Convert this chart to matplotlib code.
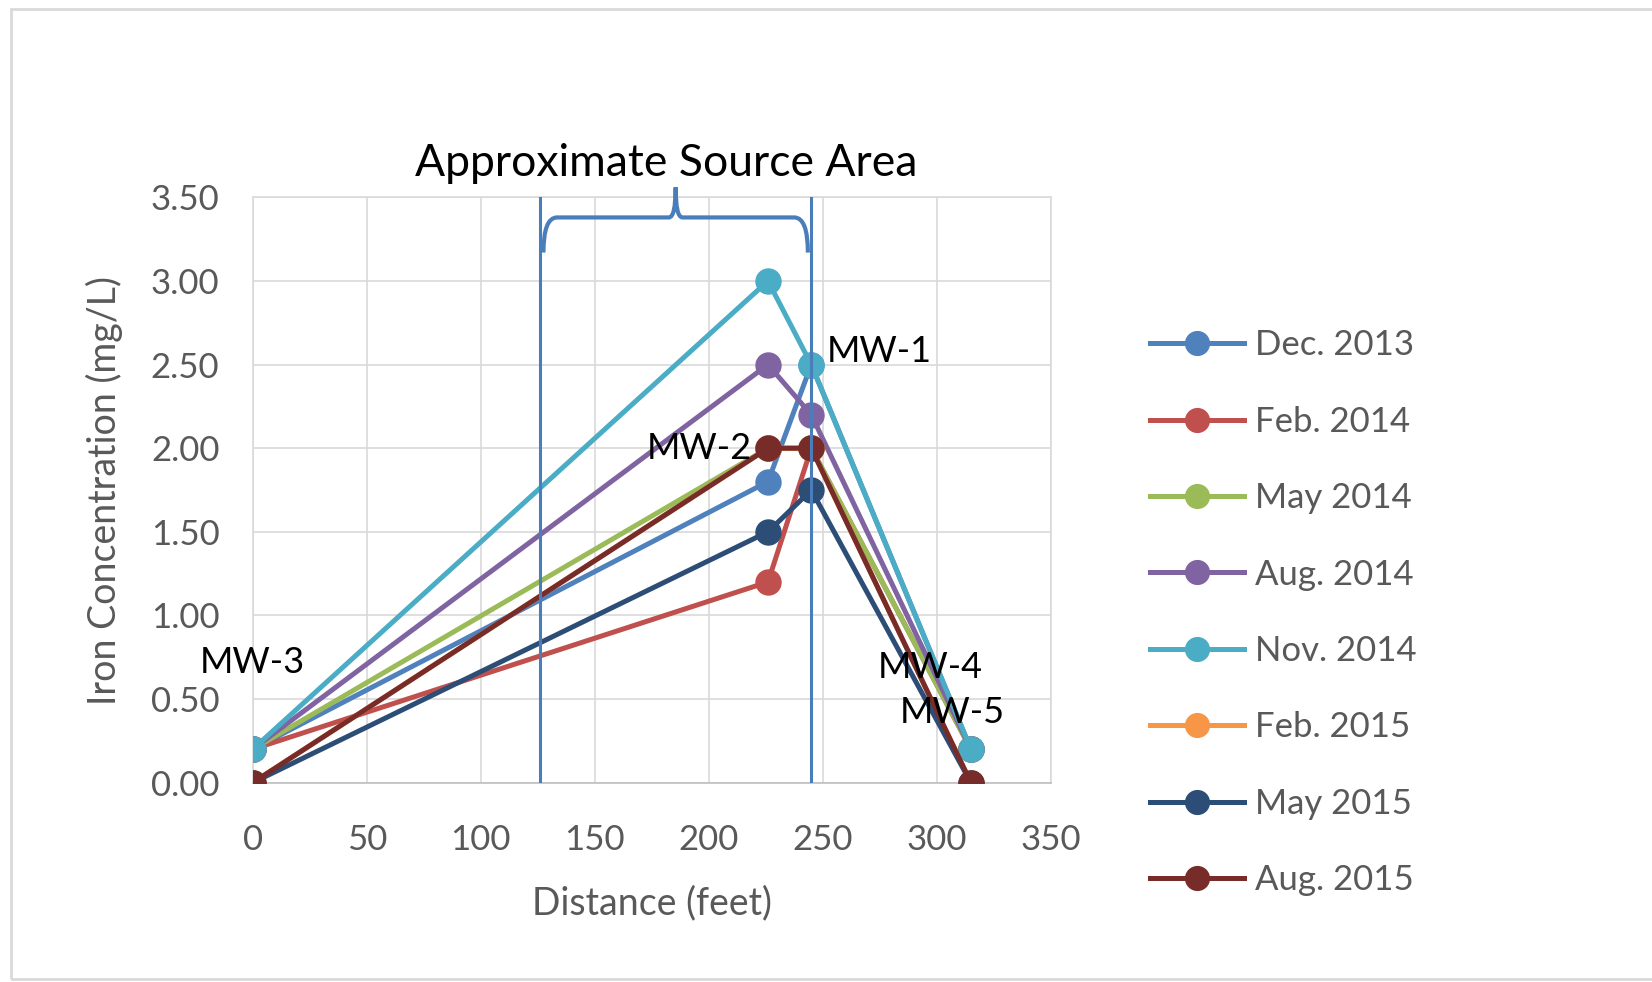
import matplotlib
matplotlib.use("Agg")
import matplotlib.pyplot as plt
from matplotlib.path import Path
from matplotlib.patches import PathPatch, Rectangle

plt.rcParams['font.family'] = ['Lato', 'DejaVu Sans']

# distance of each well from MW-3 (feet)
distance = [0, 226, 245, 315]

dates = ['Dec. 2013', 'Feb. 2014', 'May 2014', 'Aug. 2014',
         'Nov. 2014', 'Feb. 2015', 'May 2015', 'Aug. 2015']
colors = ['#4f81bd', '#c0504d', '#9bbb59', '#8064a2',
          '#4bacc6', '#f79646', '#2c4d75', '#772c2a']

# iron concentration (mg/L) at MW-3, MW-2, MW-1, MW-4/MW-5
dec_2013 = [0.2, 1.8, 2.5, 0.2]
feb_2014 = [0.2, 1.2, 2.0, 0.2]
may_2014 = [0.2, 2.0, 2.0, 0.2]
aug_2014 = [0.2, 2.5, 2.2, 0.2]
nov_2014 = [0.2, 3.0, 2.5, 0.2]
feb_2015 = [0.0, 2.0, 2.0, 0.0]
may_2015 = [0.0, 1.5, 1.75, 0.0]
aug_2015 = [0.0, 2.0, 2.0, 0.0]
series = [dec_2013, feb_2014, may_2014, aug_2014,
          nov_2014, feb_2015, may_2015, aug_2015]

wells = ['MW-3', 'MW-2', 'MW-1', 'MW-4', 'MW-5']
well_x = [0, 196, 275, 297, 307]
well_y = [0.72, 2.0, 2.58, 0.69, 0.42]

source_left = 126
source_right = 245

fig = plt.figure(figsize=(16.52, 9.82), dpi=100)
ax = fig.add_axes([0.153, 0.203, 0.483, 0.596])

for vals, lab, c in zip(series, dates, colors):
    ax.plot(distance, vals, color=c, lw=3.6, marker='o', ms=18,
            label=lab, zorder=3)

ax.set_xlim(0, 350)
ax.set_ylim(0, 3.5)
ax.set_xticks(range(0, 351, 50))
ax.set_yticks([i * 0.5 for i in range(8)])
ax.set_yticklabels(['%.2f' % (i * 0.5) for i in range(8)])
ax.grid(True, color='#d9d9d9', lw=1.2)
ax.set_axisbelow(True)
for s in ax.spines.values():
    s.set_color('#d9d9d9')
    s.set_linewidth(1.2)
ax.spines['bottom'].set_color('#bfbfbf')
ax.tick_params(length=0, labelsize=25, labelcolor='#595959')
ax.tick_params(axis='x', pad=30)
ax.tick_params(axis='y', pad=24)

ax.set_xlabel('Distance (feet)', fontsize=27, color='#595959', labelpad=21)
ax.set_ylabel('Iron Concentration (mg/L)', fontsize=27, color='#595959',
              labelpad=20)

for name, x, y in zip(wells, well_x, well_y):
    ax.text(x, y, name, fontsize=26, color='black', ha='center',
            va='center', zorder=5)

# source area bounds and brace
blue = '#4a7ebb'
ax.axvline(source_left, color=blue, lw=2.2, zorder=4)
ax.axvline(source_right, color=blue, lw=2.2, zorder=4)

x0, x1 = source_left + 1.5, source_right - 1.5
xm = (x0 + x1) / 2
yh, ye, yt = 3.38, 3.17, 3.56
verts = [(x0, ye), (x0, yh), (x0 + 6, yh),
         (xm - 3, yh), (xm, yh), (xm, yt),
         (xm, yh), (xm + 3, yh),
         (x1 - 6, yh), (x1, yh), (x1, ye)]
codes = [Path.MOVETO, Path.CURVE3, Path.CURVE3,
         Path.LINETO, Path.CURVE3, Path.CURVE3,
         Path.CURVE3, Path.CURVE3,
         Path.LINETO, Path.CURVE3, Path.CURVE3]
ax.add_patch(PathPatch(Path(verts, codes), fill=False, ec=blue, lw=3,
                       clip_on=False, zorder=4))

fig.text(0.403, 0.834, 'Approximate Source Area', fontsize=32,
         color='black', ha='center', va='center')

leg = fig.legend(loc='center left', bbox_to_anchor=(0.6775, 0.376),
                 frameon=False, fontsize=25, handlelength=2.7,
                 handletextpad=0.3, labelspacing=1.28, markerscale=0.95)
for t in leg.get_texts():
    t.set_color('#595959')

fig.add_artist(Rectangle((0.0065, 0.003), 1.0, 0.988, fill=False,
                         ec='#d9d9d9', lw=2, transform=fig.transFigure))

fig.savefig('out.png', dpi=100)
